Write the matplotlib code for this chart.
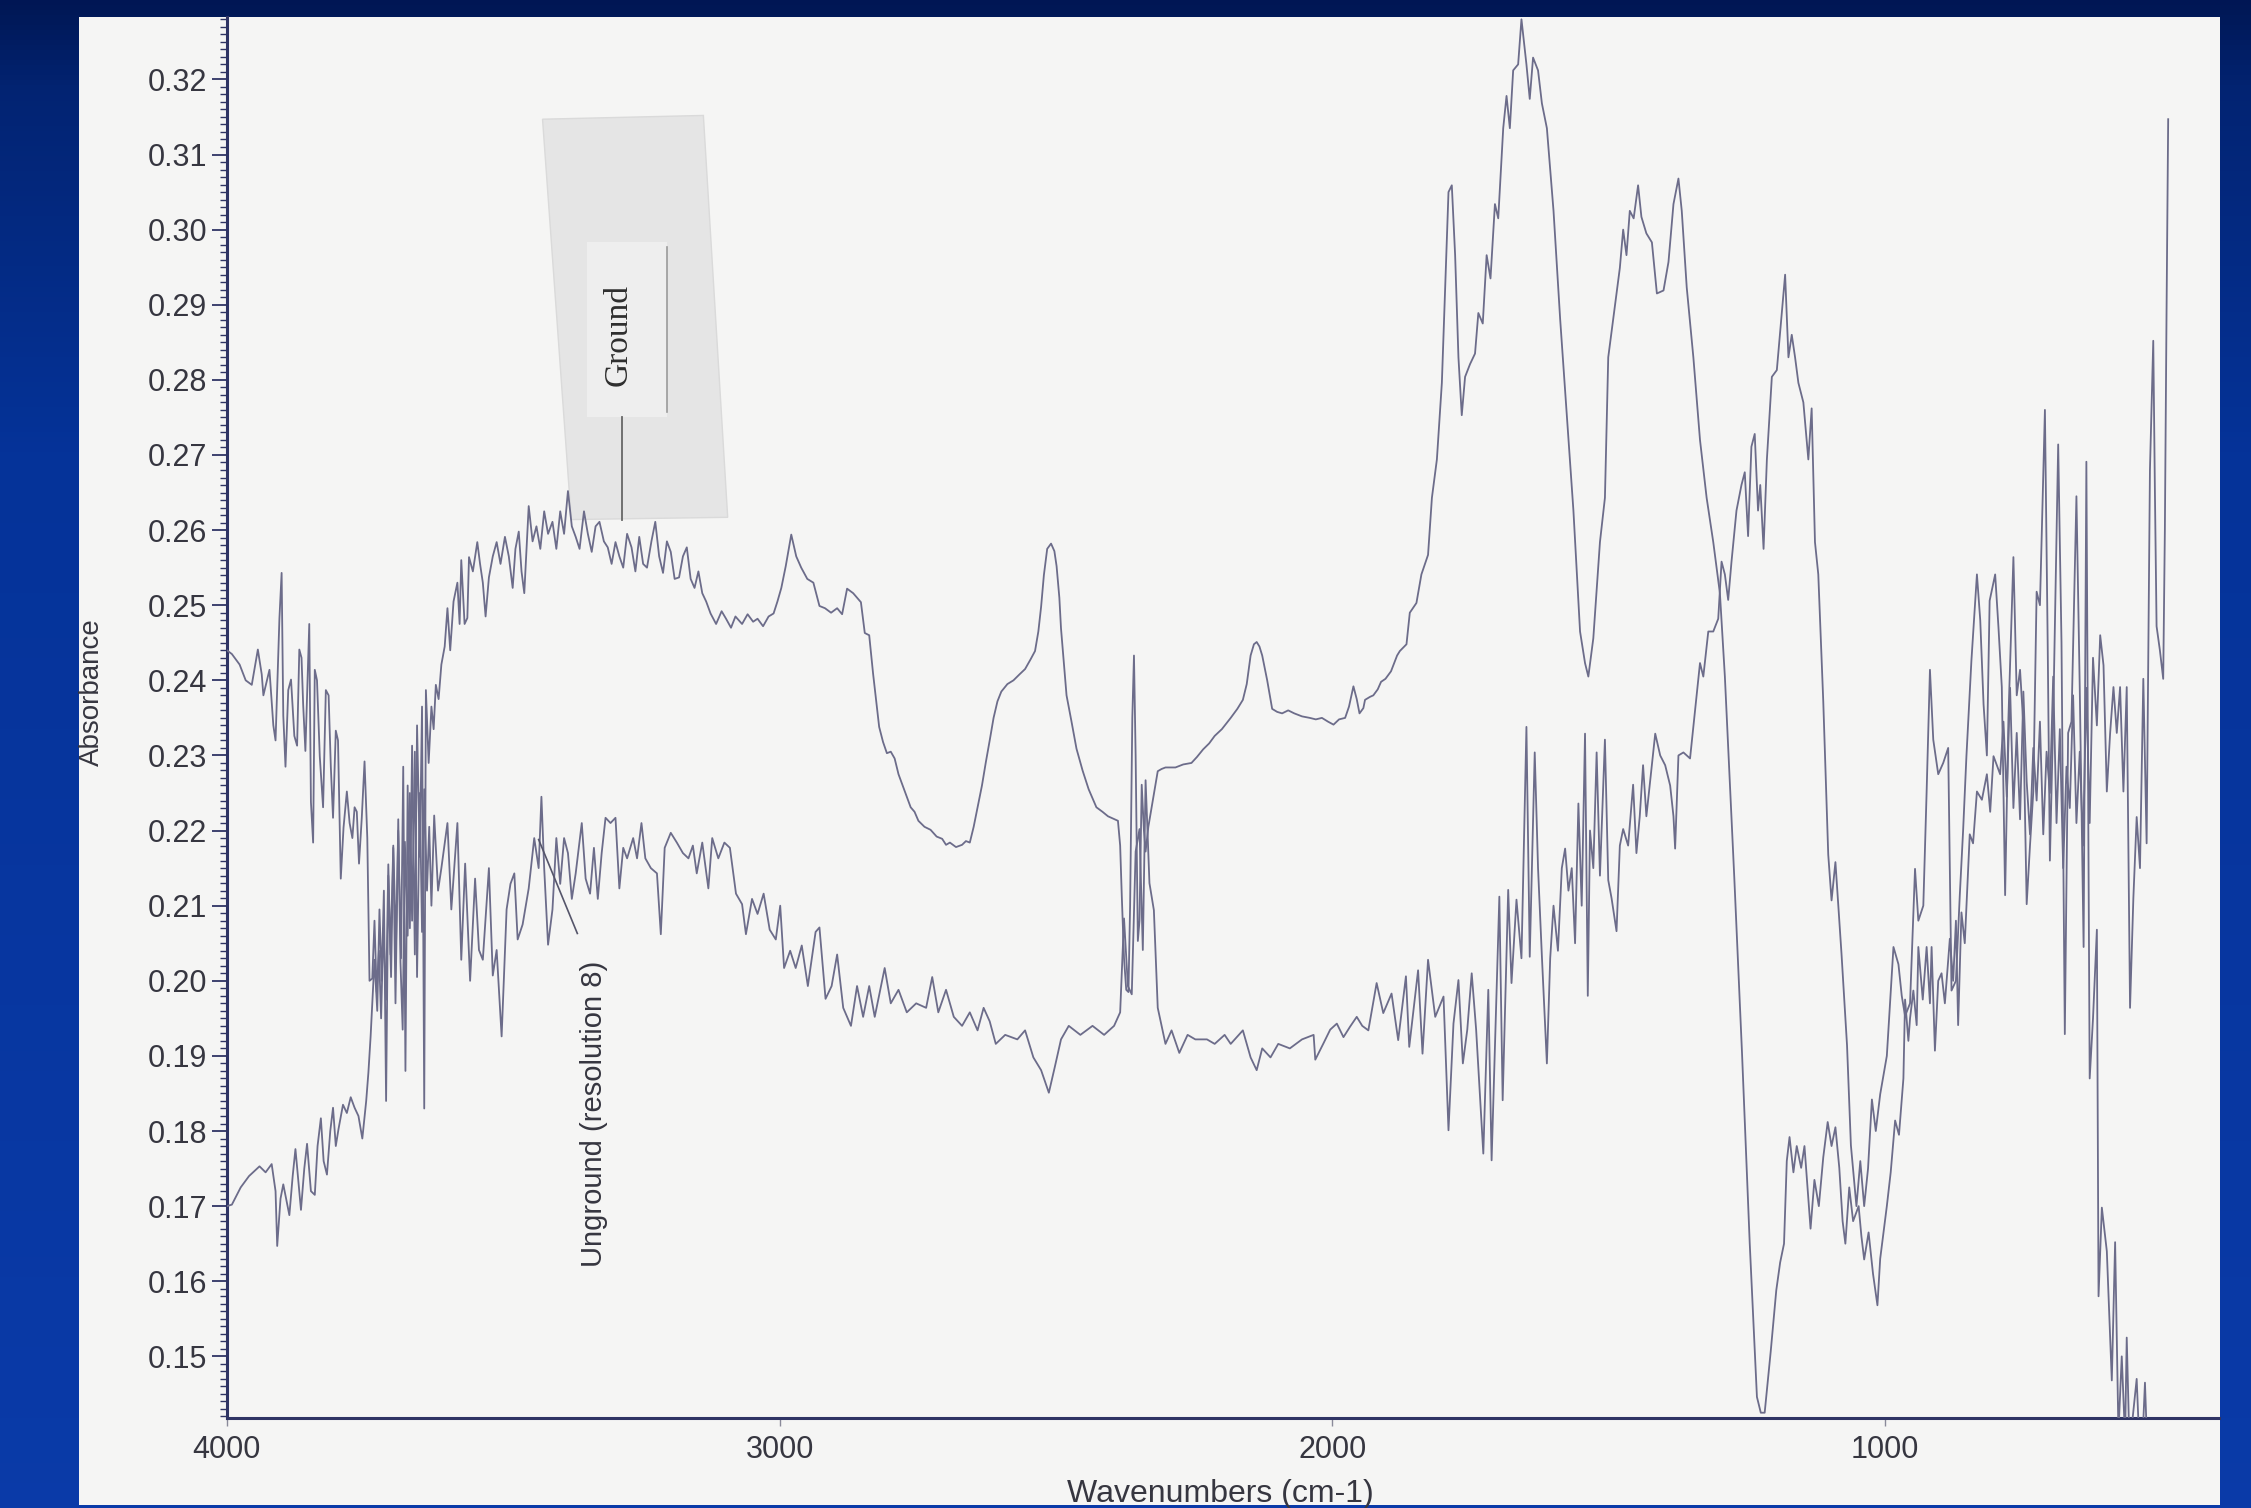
import matplotlib
matplotlib.use("Agg")
import matplotlib.pyplot as plt
import numpy as np
from matplotlib.patches import Polygon, Rectangle
from matplotlib.ticker import MultipleLocator, FormatStrFormatter

plt.rcParams["font.family"] = ["Liberation Sans", "DejaVu Sans"]

ground = [
    (4000, .1700), (3991, .1702), (3975, .1725), (3960, .1740), (3941, .1753), (3930, .1745),
    (3919, .1756), (3912, .1720), (3909, .1647), (3903, .1710), (3898, .1729), (3887, .1688),
    (3881, .1740), (3876, .1776), (3866, .1695), (3860, .1750), (3855, .1783), (3848, .1720),
    (3841, .1715), (3836, .1780), (3830, .1817), (3825, .1760), (3819, .1742), (3813, .1800),
    (3808, .1831), (3803, .1780), (3798, .1803), (3790, .1835), (3783, .1824), (3776, .1845),
    (3769, .1831), (3762, .1820), (3755, .1790), (3748, .1840), (3744, .1878), (3740, .1926),
    (3733, .2028), (3728, .1960), (3724, .2095), (3720, .2000), (3716, .2120), (3712, .1840),
    (3708, .2140), (3703, .2005), (3699, .2177), (3694, .2050), (3690, .2200), (3685, .2030),
    (3681, .2285), (3677, .1880), (3673, .2260), (3669, .2070), (3665, .2313), (3660, .2035),
    (3656, .2340), (3651, .2165), (3647, .2365), (3643, .1830), (3640, .2387), (3635, .2290),
    (3630, .2365), (3626, .2335), (3622, .2394), (3617, .2375), (3612, .2421), (3606, .2445),
    (3601, .2496), (3596, .2440), (3590, .2505), (3583, .2530), (3579, .2475), (3576, .2560),
    (3570, .2475), (3565, .2483), (3562, .2564), (3555, .2545), (3547, .2584), (3542, .2555),
    (3537, .2530), (3532, .2485), (3526, .2537), (3519, .2565), (3512, .2584), (3505, .2555),
    (3497, .2591), (3490, .2565), (3483, .2523), (3478, .2575), (3472, .2598), (3467, .2545),
    (3462, .2516), (3458, .2575), (3454, .2632), (3447, .2585), (3440, .2605), (3433, .2575),
    (3426, .2625), (3419, .2595), (3411, .2611), (3404, .2575), (3397, .2625), (3390, .2595),
    (3383, .2652), (3376, .2605), (3369, .2591), (3362, .2575), (3354, .2625), (3347, .2595),
    (3340, .2571), (3333, .2605), (3326, .2611), (3318, .2585), (3311, .2577), (3304, .2555),
    (3297, .2584), (3290, .2565), (3283, .2550), (3276, .2595), (3268, .2577), (3261, .2545),
    (3254, .2591), (3247, .2555), (3240, .2550), (3232, .2585), (3225, .2611), (3218, .2565),
    (3211, .2543), (3204, .2585), (3197, .2571), (3190, .2535), (3182, .2537), (3175, .2565),
    (3168, .2577), (3161, .2535), (3154, .2523), (3147, .2545), (3140, .2516), (3133, .2505),
    (3125, .2489), (3115, .2475), (3105, .2492), (3097, .2482), (3088, .2470), (3080, .2485),
    (3068, .2475), (3058, .2488), (3048, .2478), (3040, .2482), (3030, .2472), (3020, .2485),
    (3011, .2489), (3004, .2505), (2997, .2523), (2989, .2552), (2979, .2594), (2970, .2565),
    (2961, .2550), (2950, .2535), (2939, .2530), (2928, .2499), (2918, .2496), (2907, .2490),
    (2896, .2496), (2887, .2488), (2878, .2522), (2867, .2516), (2860, .2510), (2853, .2504),
    (2846, .2463), (2838, .2460), (2831, .2409), (2820, .2338), (2813, .2318), (2806, .2303),
    (2799, .2305), (2792, .2296), (2785, .2275), (2778, .2261), (2770, .2245), (2763, .2231),
    (2756, .2225), (2749, .2213), (2738, .2205), (2727, .2201), (2716, .2192), (2706, .2189),
    (2699, .2181), (2692, .2184), (2681, .2178), (2670, .2181), (2663, .2186), (2656, .2184),
    (2649, .2205), (2642, .2231), (2634, .2260), (2627, .2291), (2620, .2320), (2613, .2350),
    (2606, .2372), (2599, .2385), (2588, .2395), (2577, .2400), (2566, .2408), (2556, .2415),
    (2546, .2428), (2538, .2439), (2532, .2465), (2527, .2498), (2522, .2540), (2516, .2575),
    (2509, .2582), (2503, .2572), (2499, .2552), (2494, .2510), (2491, .2469), (2486, .2425),
    (2481, .2380), (2472, .2345), (2463, .2309), (2452, .2280), (2441, .2255), (2434, .2243),
    (2427, .2231), (2416, .2225), (2406, .2219), (2397, .2216), (2388, .2213), (2384, .2180),
    (2381, .2112), (2377, .2030), (2373, .1988), (2369, .1985), (2366, .2100), (2362, .2350),
    (2359, .2433), (2356, .2300), (2352, .2053), (2349, .2080), (2345, .2261), (2341, .2200),
    (2338, .2172), (2333, .2205), (2327, .2231), (2320, .2262), (2316, .2279), (2309, .2282),
    (2302, .2284), (2284, .2284), (2270, .2288), (2255, .2290), (2245, .2298), (2234, .2308),
    (2223, .2316), (2213, .2326), (2200, .2335), (2184, .2350), (2172, .2362), (2162, .2374),
    (2155, .2395), (2148, .2433), (2142, .2448), (2137, .2451), (2132, .2445), (2127, .2433),
    (2118, .2400), (2109, .2362), (2100, .2358), (2091, .2356), (2080, .2360), (2069, .2356),
    (2055, .2352), (2041, .2350), (2030, .2348), (2019, .2350), (2008, .2345), (1998, .2341),
    (1988, .2348), (1977, .2350), (1970, .2365), (1962, .2392), (1956, .2375), (1951, .2356),
    (1944, .2363), (1941, .2374), (1932, .2378), (1926, .2380), (1918, .2388), (1912, .2398),
    (1904, .2402), (1894, .2412), (1883, .2433), (1878, .2439), (1866, .2448), (1860, .2490),
    (1848, .2503), (1839, .2541), (1827, .2567), (1820, .2643), (1811, .2694), (1802, .2796),
    (1796, .2923), (1790, .3050), (1784, .3059), (1778, .2966), (1772, .2830), (1766, .2753),
    (1760, .2804), (1751, .2821), (1742, .2835), (1736, .2889), (1728, .2875), (1721, .2966),
    (1714, .2935), (1706, .3034), (1700, .3015), (1691, .3135), (1685, .3178), (1679, .3135),
    (1673, .3212), (1664, .3220), (1658, .3280), (1649, .3220), (1643, .3174), (1637, .3229),
    (1628, .3212), (1621, .3168), (1612, .3135), (1600, .3025), (1588, .2881), (1576, .2753),
    (1564, .2626), (1552, .2465), (1543, .2423), (1537, .2405), (1528, .2456), (1516, .2584),
    (1507, .2643), (1501, .2830), (1492, .2881), (1480, .2949), (1474, .3000), (1468, .2966),
    (1462, .3025), (1455, .3015), (1447, .3059), (1441, .3017), (1432, .2995), (1422, .2983),
    (1413, .2915), (1401, .2919), (1392, .2957), (1383, .3034), (1374, .3068), (1368, .3025),
    (1359, .2923), (1347, .2830), (1335, .2720), (1323, .2643), (1311, .2584), (1299, .2516),
    (1290, .2405), (1284, .2310), (1273, .2138), (1259, .1904), (1245, .1650), (1232, .1446),
    (1225, .1425), (1218, .1425), (1207, .1507), (1197, .1588), (1190, .1625), (1183, .1650),
    (1178, .1760), (1173, .1792), (1166, .1745), (1160, .1780), (1152, .1751), (1146, .1780),
    (1140, .1720), (1135, .1670), (1128, .1735), (1120, .1700), (1112, .1765), (1104, .1812),
    (1097, .1780), (1090, .1805), (1083, .1751), (1077, .1680), (1072, .1650), (1065, .1725),
    (1058, .1680), (1048, .1700), (1043, .1660), (1038, .1629), (1030, .1665), (1022, .1610),
    (1014, .1568), (1009, .1630), (1003, .1665), (997, .1700), (990, .1745), (982, .1814),
    (975, .1795), (967, .1870), (964, .1975), (958, .1920), (955, .1950), (949, .1987),
    (943, .1941), (940, .2045), (932, .1975), (925, .2045), (919, .1970), (916, .2045),
    (910, .1907), (904, .2000), (898, .2010), (892, .1970), (883, .2056), (877, .2000),
    (872, .2080), (868, .1941), (862, .2091), (856, .2050), (847, .2195), (841, .2183),
    (834, .2252), (825, .2241), (816, .2275), (810, .2225), (804, .2299), (798, .2287),
    (792, .2275), (786, .2345), (780, .2245), (774, .2390), (768, .2230), (762, .2330),
    (756, .2215), (750, .2385), (744, .2265), (738, .2195), (732, .2310), (726, .2240),
    (720, .2345), (714, .2195), (708, .2305), (702, .2250), (696, .2405), (690, .2210),
    (684, .2335), (678, .2150), (672, .2285), (666, .2230), (660, .2380), (654, .2210),
    (648, .2305), (642, .2180), (636, .2390), (630, .2210), (624, .2430), (617, .2340),
    (611, .2460), (605, .2420), (599, .2252), (593, .2330), (587, .2391), (581, .2330),
    (575, .2391), (569, .2252), (563, .2391), (557, .1964), (551, .2110), (545, .2218),
    (539, .2150), (533, .2402), (527, .2183), (521, .2680), (515, .2852), (512, .2650),
    (509, .2472), (503, .2440), (497, .2402), (494, .2600), (491, .2887), (488, .3147),
]

unground = [
    (4000, .2440), (3991, .2435), (3977, .2421), (3966, .2400), (3955, .2394), (3944, .2441),
    (3937, .2408), (3934, .2380), (3923, .2414), (3916, .2340), (3912, .2320), (3905, .2482),
    (3901, .2543), (3898, .2353), (3894, .2285), (3889, .2387), (3884, .2401), (3878, .2326),
    (3873, .2313), (3869, .2441), (3865, .2430), (3862, .2367), (3858, .2306), (3851, .2475),
    (3848, .2238), (3844, .2184), (3841, .2414), (3837, .2400), (3832, .2299), (3826, .2231),
    (3821, .2387), (3816, .2380), (3812, .2285), (3808, .2217), (3803, .2333), (3799, .2320),
    (3794, .2136), (3789, .2204), (3783, .2252), (3778, .2210), (3773, .2190), (3769, .2231),
    (3765, .2225), (3761, .2156), (3756, .2217), (3751, .2292), (3746, .2190), (3742, .2000),
    (3737, .2003), (3733, .2080), (3729, .1985), (3725, .2040), (3721, .1950), (3717, .2070),
    (3712, .1975), (3708, .2155), (3704, .2035), (3699, .2180), (3695, .1970), (3690, .2215),
    (3686, .2025), (3682, .1935), (3678, .2185), (3673, .2060), (3669, .2250), (3665, .2080),
    (3660, .2305), (3656, .2005), (3651, .2250), (3647, .2065), (3643, .2255), (3638, .2120),
    (3634, .2205), (3630, .2100), (3625, .2220), (3618, .2120), (3612, .2150), (3601, .2210),
    (3594, .2095), (3583, .2210), (3576, .2028), (3569, .2156), (3560, .2000), (3551, .2136),
    (3544, .2041), (3537, .2028), (3526, .2150), (3519, .2007), (3512, .2041), (3503, .1926),
    (3494, .2095), (3487, .2129), (3480, .2143), (3474, .2055), (3465, .2075), (3454, .2123),
    (3444, .2190), (3436, .2150), (3431, .2245), (3426, .2150), (3419, .2048), (3411, .2095),
    (3404, .2190), (3397, .2129), (3390, .2190), (3383, .2170), (3376, .2109), (3369, .2143),
    (3358, .2210), (3351, .2136), (3343, .2116), (3336, .2177), (3329, .2109), (3322, .2170),
    (3315, .2217), (3306, .2210), (3297, .2217), (3290, .2123), (3283, .2177), (3276, .2163),
    (3265, .2190), (3258, .2163), (3250, .2210), (3243, .2163), (3233, .2150), (3222, .2143),
    (3215, .2062), (3208, .2177), (3197, .2197), (3186, .2184), (3175, .2170), (3165, .2163),
    (3157, .2180), (3150, .2143), (3140, .2184), (3129, .2123), (3122, .2190), (3111, .2163),
    (3100, .2184), (3090, .2177), (3079, .2116), (3068, .2102), (3061, .2062), (3050, .2109),
    (3040, .2089), (3029, .2116), (3018, .2068), (3007, .2055), (2999, .2100), (2992, .2017),
    (2981, .2040), (2971, .2017), (2960, .2047), (2949, .1993), (2935, .2065), (2928, .2071),
    (2917, .1976), (2906, .1993), (2896, .2035), (2885, .1964), (2871, .1940), (2860, .1993),
    (2849, .1952), (2838, .1993), (2828, .1952), (2810, .2017), (2799, .1970), (2785, .1988),
    (2770, .1958), (2753, .1970), (2735, .1964), (2724, .2005), (2713, .1958), (2699, .1988),
    (2685, .1952), (2670, .1940), (2656, .1958), (2642, .1934), (2631, .1964), (2620, .1946),
    (2609, .1916), (2592, .1928), (2570, .1922), (2556, .1934), (2541, .1898), (2527, .1881),
    (2513, .1851), (2502, .1886), (2491, .1922), (2477, .1940), (2456, .1928), (2434, .1940),
    (2413, .1928), (2395, .1940), (2384, .1958), (2377, .2083), (2370, .1993), (2363, .1982),
    (2356, .2172), (2349, .2202), (2343, .2041), (2338, .2267), (2331, .2130), (2323, .2094),
    (2316, .1964), (2309, .1940), (2302, .1916), (2291, .1934), (2277, .1904), (2262, .1928),
    (2248, .1922), (2227, .1922), (2213, .1916), (2195, .1928), (2184, .1916), (2162, .1934),
    (2148, .1898), (2137, .1881), (2127, .1910), (2112, .1898), (2098, .1916), (2077, .1910),
    (2055, .1922), (2034, .1928), (2031, .1895), (2016, .1917), (2004, .1935), (1992, .1943),
    (1980, .1925), (1968, .1939), (1956, .1952), (1946, .1940), (1935, .1934), (1920, .1997),
    (1908, .1957), (1893, .1983), (1881, .1921), (1867, .2006), (1861, .1912), (1845, .2014),
    (1837, .1903), (1827, .2028), (1814, .1952), (1799, .1979), (1790, .1801), (1781, .1943),
    (1772, .2001), (1764, .1890), (1756, .1935), (1748, .2010), (1740, .1935), (1727, .1770),
    (1718, .1988), (1712, .1761), (1698, .2112), (1692, .1841), (1682, .2121), (1676, .1997),
    (1667, .2108), (1658, .2030), (1649, .2338), (1643, .2032), (1634, .2304), (1628, .2150),
    (1621, .2032), (1612, .1890), (1606, .2030), (1600, .2100), (1592, .2040), (1585, .2150),
    (1579, .2176), (1573, .2120), (1567, .2150), (1561, .2050), (1555, .2236), (1549, .2100),
    (1543, .2329), (1538, .1980), (1534, .2200), (1528, .2150), (1522, .2304), (1516, .2140),
    (1507, .2321), (1501, .2134), (1495, .2110), (1486, .2066), (1480, .2180), (1474, .2202),
    (1465, .2180), (1456, .2261), (1450, .2170), (1444, .2219), (1438, .2287), (1432, .2219),
    (1426, .2260), (1416, .2329), (1407, .2300), (1398, .2287), (1389, .2260), (1383, .2219),
    (1380, .2176), (1374, .2300), (1365, .2304), (1353, .2296), (1341, .2380), (1335, .2423),
    (1329, .2405), (1320, .2465), (1311, .2465), (1302, .2482), (1296, .2558), (1290, .2541),
    (1284, .2507), (1278, .2558), (1269, .2626), (1260, .2660), (1254, .2677), (1248, .2592),
    (1242, .2711), (1236, .2728), (1230, .2626), (1226, .2660), (1220, .2575), (1214, .2694),
    (1205, .2804), (1196, .2813), (1190, .2864), (1181, .2940), (1175, .2830), (1169, .2860),
    (1163, .2830), (1157, .2796), (1148, .2770), (1139, .2694), (1133, .2762), (1127, .2584),
    (1121, .2541), (1112, .2372), (1103, .2168), (1097, .2107), (1090, .2158), (1079, .2036),
    (1069, .1914), (1062, .1781), (1052, .1700), (1045, .1760), (1038, .1700), (1031, .1750),
    (1024, .1842), (1017, .1800), (1009, .1849), (997, .1900), (985, .2045), (976, .2022),
    (970, .1980), (964, .1953), (955, .1970), (946, .2149), (940, .2080), (931, .2100),
    (925, .2252), (919, .2414), (913, .2321), (904, .2275), (895, .2290), (886, .2310),
    (880, .1987), (872, .2000), (865, .2114), (859, .2200), (853, .2299), (844, .2426),
    (834, .2541), (828, .2480), (822, .2368), (816, .2300), (811, .2506), (801, .2541),
    (795, .2470), (789, .2391), (783, .2114), (777, .2350), (768, .2564), (762, .2380),
    (756, .2414), (750, .2340), (744, .2102), (738, .2180), (732, .2252), (726, .2518),
    (720, .2500), (711, .2760), (706, .2450), (702, .2160), (696, .2350), (687, .2714),
    (681, .2450), (675, .1929), (669, .2330), (663, .2345), (654, .2645), (648, .2390),
    (641, .2045), (636, .2691), (630, .1870), (624, .1950), (617, .2068), (614, .1580),
    (608, .1698), (599, .1640), (590, .1468), (584, .1652), (578, .1398), (572, .1500),
    (566, .1390), (563, .1525), (558, .1380), (552, .1420), (545, .1470), (540, .1380),
    (535, .1380), (530, .1465), (526, .1380), (520, .1360),
]

y_ticks = [0.15, 0.16, 0.17, 0.18, 0.19, 0.20, 0.21, 0.22, 0.23, 0.24, 0.25, 0.26,
           0.27, 0.28, 0.29, 0.30, 0.31, 0.32]
x_ticks = [4000, 3000, 2000, 1000]

LINE = "#6c6c8a"
TEXT = "#363640"
AXIS = "#2f3464"
PAPER = "#f5f5f4"

fig = plt.figure(figsize=(22.51, 15.08), dpi=100)

# blue slide background + scanned page
ax_bg = fig.add_axes([0, 0, 1, 1], zorder=-10)
ax_bg.set_xlim(0, 1)
ax_bg.set_ylim(0, 1)
ax_bg.axis("off")
rows = np.linspace(0, 1, 300)
stops = [0.0, 0.06, 0.3, 1.0]
r = np.interp(rows, stops, [0.00, 0.01, 0.02, 0.04])
g = np.interp(rows, stops, [0.09, 0.14, 0.20, 0.23])
b = np.interp(rows, stops, [0.33, 0.45, 0.60, 0.66])
grad = np.stack([r, g, b], axis=-1)[:, None, :].repeat(2, axis=1)
ax_bg.imshow(grad, extent=(0, 1, 0, 1), aspect="auto", origin="upper")
ax_bg.add_patch(Rectangle((0.0351, 0.002), 0.9512, 0.9867, facecolor=PAPER,
                          edgecolor="none"))

ax = fig.add_axes([0.1008, 0.0597, 0.885, 0.929])
ax.set_facecolor("none")

gw, ga = np.array(ground).T
uw, ua = np.array(unground).T
ax.plot(gw, ga, color=LINE, lw=1.3, zorder=3)
ax.plot(uw, ua, color=LINE, lw=1.3, zorder=3)

ax.set_xlim(4000, 396)
ax.set_ylim(0.1418, 0.3283)

for s in ["top", "right"]:
    ax.spines[s].set_visible(False)
for s in ["left", "bottom"]:
    ax.spines[s].set_color(AXIS)
    ax.spines[s].set_linewidth(2.2)

ax.set_yticks(y_ticks)
ax.yaxis.set_major_formatter(FormatStrFormatter("%.2f"))
ax.yaxis.set_minor_locator(MultipleLocator(0.001))
ax.set_xticks(x_ticks)
ax.set_xticklabels([str(v) for v in x_ticks])
ax.tick_params(axis="y", which="major", length=11, width=1.3, color=AXIS,
               labelsize=22, labelcolor=TEXT, pad=3)
ax.tick_params(axis="y", which="minor", length=5, width=1.0, color=AXIS)
ax.tick_params(axis="x", which="major", length=6, width=1.0, color="#8a8a9a",
               labelsize=22, labelcolor=TEXT, pad=6)

fig.text(0.041, 0.541, "Absorbance", rotation=90, ha="center", va="center",
         fontsize=20, color=TEXT)
fig.text(0.542, 0.004, "Wavenumbers (cm-1)", ha="center", va="baseline",
         fontsize=23, color=TEXT)

# "Ground" sticky label
ax.add_patch(Polygon([(3429, 0.3147), (3138, 0.3152), (3094, 0.2617), (3377, 0.2614)],
                     closed=True, facecolor="#e5e5e5", edgecolor="#dadada",
                     lw=1, zorder=1))
ax.add_patch(Rectangle((3203, 0.2751), 145, 0.0233, facecolor="#eeeeee",
                       edgecolor="none", zorder=1.5))
ax.plot([3203, 3203], [0.2757, 0.2977], color="#9a9a9a", lw=1.2, zorder=2)
ax.plot([3286, 3286], [0.2614, 0.2751], color="#666666", lw=1.3, zorder=2)
ax.text(3291, 0.286, "Ground", rotation=90, ha="center", va="center",
        fontsize=24, color="#2e2e2e", family=["Liberation Serif", "DejaVu Serif"],
        zorder=4)

# "Unground" label
ax.plot([3436, 3366], [0.2188, 0.2063], color="#55556a", lw=1.2, zorder=4)
ax.text(3335, 0.1823, "Unground (resolution 8)", rotation=90, ha="center",
        va="center", fontsize=21, color=TEXT, zorder=4)

fig.savefig("out.png", dpi=100)
